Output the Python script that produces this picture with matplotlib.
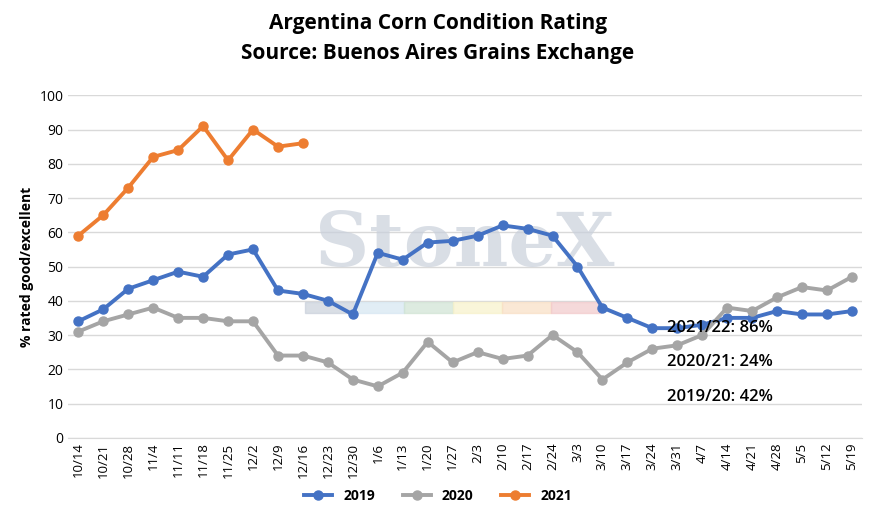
import matplotlib.pyplot as plt

dates = ["10/14", "10/21", "10/28", "11/4", "11/11", "11/18", "11/25", "12/2", "12/9", "12/16",
         "12/23", "12/30", "1/6", "1/13", "1/20", "1/27", "2/3", "2/10", "2/17", "2/24",
         "3/3", "3/10", "3/17", "3/24", "3/31", "4/7", "4/14", "4/21", "4/28", "5/5", "5/12", "5/19"]
y2019 = [34, 37.5, 43.5, 46, 48.5, 47, 53.5, 55, 43, 42, 40, 36, 54, 52, 57, 57.5, 59, 62, 61, 59,
         50, 38, 35, 32, 32, 33, 35, 35, 37, 36, 36, 37]
y2020 = [31, 34, 36, 38, 35, 35, 34, 34, 24, 24, 22, 17, 15, 19, 28, 22, 25, 23, 24, 30,
         25, 17, 22, 26, 27, 30, 38, 37, 41, 44, 43, 47]
y2021 = [59, 65, 73, 82, 84, 91, 81, 90, 85, 86]
notes = ["2021/22: 86%", "2020/21: 24%", "2019/20: 42%"]

plt.rcParams['font.family'] = ['Open Sans', 'DejaVu Sans']
fig = plt.figure(figsize=(8.76, 5.15), dpi=100)
ax = fig.add_axes([0.078, 0.15, 0.906, 0.665])

x = range(len(dates))
ax.plot(x, y2019, color='#4472C4', lw=2.8, marker='o', ms=6.5, label='2019', zorder=3)
ax.plot(x, y2020, color='#A5A5A5', lw=2.8, marker='o', ms=6.5, label='2020', zorder=3)
ax.plot(range(len(y2021)), y2021, color='#ED7D31', lw=2.8, marker='o', ms=6.5, label='2021', zorder=3)

# watermark
ax.text(15.5, 56, "StoneX", fontsize=54, fontweight='bold', family='DejaVu Serif',
        color='#c9d0db', ha='center', va='center', alpha=0.7, zorder=1)
strip = ['#c9d0db', '#d5e6f2', '#cfe3d3', '#f7f1c9', '#f9dfc4', '#f2c9cb']
for i, c in enumerate(strip):
    ax.axhspan(36.5, 39.5, xmin=(9.6 + i * 2) / 32.2, xmax=(11.6 + i * 2) / 32.2, color=c, alpha=0.7, zorder=1)

for i, t in enumerate(notes):
    ax.text(23.6, 32 - i * 10, t, fontsize=12, fontweight='semibold', va='center', zorder=4)

ax.set_ylim(0, 100)
ax.set_xlim(-0.4, len(dates) - 0.6)
ax.set_yticks(range(0, 101, 10))
ax.set_xticks(list(x))
ax.set_xticklabels(dates, rotation=90, fontsize=9.5)
ax.tick_params(axis='y', labelsize=10, length=0)
ax.tick_params(axis='x', length=0)
ax.grid(axis='y', color='#d9d9d9', lw=1)
ax.set_axisbelow(True)
for s in ['top', 'right', 'left']:
    ax.spines[s].set_visible(False)
ax.spines['bottom'].set_color('#d9d9d9')
ax.set_ylabel('% rated good/excellent', fontsize=10, fontweight='bold')

fig.suptitle("Argentina Corn Condition Rating\nSource: Buenos Aires Grains Exchange",
             fontsize=15, fontweight='bold', y=0.975, linespacing=1.6)
fig.legend(loc='lower center', ncol=3, frameon=False, bbox_to_anchor=(0.5, 0.0),
           prop={'weight': 'bold', 'size': 10})
fig.savefig('out.png', dpi=100)
